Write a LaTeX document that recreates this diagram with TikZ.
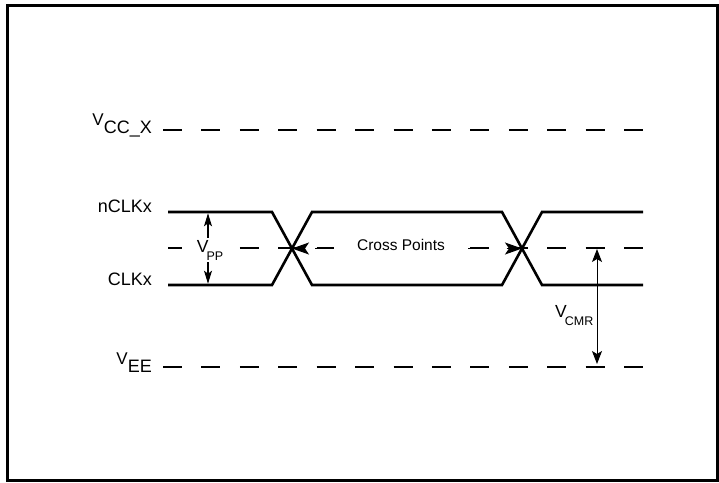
\documentclass[tikz,border=0pt]{standalone}
\usepackage{fontspec}
\setmainfont{Liberation Sans}
\usetikzlibrary{arrows.meta}

\newcommand{\lvlname}[2]{{\fontsize{17}{19}\selectfont #1}\raisebox{-8pt}{\fontsize{18}{20}\selectfont #2}}
\newcommand{\vsub}[2]{{\fontsize{17.5}{19}\selectfont #1}\kern-2pt\raisebox{-8pt}{\fontsize{12.5}{14}\selectfont #2}}

\begin{document}
\begin{tikzpicture}[x=1pt, y=-1pt,
  level/.style={line width=1.1pt, dash pattern=on 19pt off 19.42pt},
  wave/.style={line width=2.6pt, line join=miter},
  lbl/.style={anchor=base east, inner sep=0pt, font=\fontsize{18}{20}\selectfont},
  sublbl/.style={fill=white, inner sep=2pt},
  tipbig/.style={-{Stealth[length=17pt, width=12pt, inset=4pt]}, line width=1.1pt, dash pattern=on 19pt off 19.42pt},
  tipsmall/.style={-{Stealth[length=13pt, width=8pt, inset=3pt]}, line width=1.1pt},
  tipcmr/.style={{Stealth[length=13pt, width=10pt, inset=3pt]}-{Stealth[length=13pt, width=10pt, inset=3pt]}, line width=1pt}]

\useasboundingbox (0,0) rectangle (719,482);
% рамка
\draw [line width=2.6pt] (7.3,5.3) rectangle (717.5,480.3);

% уровни
\coordinate (vccL) at (163,130);
\coordinate (vccR) at (643,130);
\coordinate (midL) at (168,248);
\coordinate (midR) at (643,248);
\coordinate (veeL) at (163,367);
\coordinate (veeR) at (643,367);
\draw [level] (vccL) -- (vccR);
\draw [level, dash phase=5pt] (midL) -- (midR);
\draw [level] (veeL) -- (veeR);

% сигналы
\coordinate (x1) at (292,248.5);
\coordinate (x2) at (522,248.5);
\draw [wave] (168,212) -- (272,212) -- (x1) -- (312,285) -- (502,285) -- (x2) -- (542,212) -- (643,212);
\draw [wave] (168,285) -- (272,285) -- (x1) -- (312,212) -- (502,212) -- (x2) -- (542,285) -- (643,285);

% подписи уровней
\node [lbl] (vcc) at (152,125) {\lvlname{V}{CC\_X}};
\node [lbl] (nclk) at (152,212) {nCLKx};
\node [lbl] (clk) at (152,285) {CLKx};
\node [lbl] (vee) at (152,364) {\lvlname{V}{EE}};

% точки пересечения
\node [fill=white, inner sep=0pt, outer sep=0pt, minimum width=134.6pt, minimum height=12pt,
  font=\fontsize{15.5}{17}\selectfont] (cp) at (401,245) {Cross Points};
\draw [tipbig] (cp.west |- x1) -- (x1);
\draw [tipbig] (cp.east |- x1) -- (x2);

% размах V_PP
\coordinate (ppTop) at (208,212);
\coordinate (ppBot) at (208,285);
\node [sublbl] (vpp) at (210,250) {\vsub{V}{PP}};
\draw [tipsmall, shorten >=1.3pt] (vpp.north -| ppTop) -- (ppTop);
\draw [tipsmall, shorten >=1.3pt] (vpp.south -| ppBot) -- (ppBot);

% V_CMR
\coordinate (cmrTop) at (597,249);
\coordinate (cmrBot) at (597,364);
\draw [tipcmr] (cmrTop) -- (cmrBot);
\node [anchor=base west, inner sep=0pt] (vcmr) at (555,317) {\vsub{V}{CMR}};
\end{tikzpicture}
\end{document}
